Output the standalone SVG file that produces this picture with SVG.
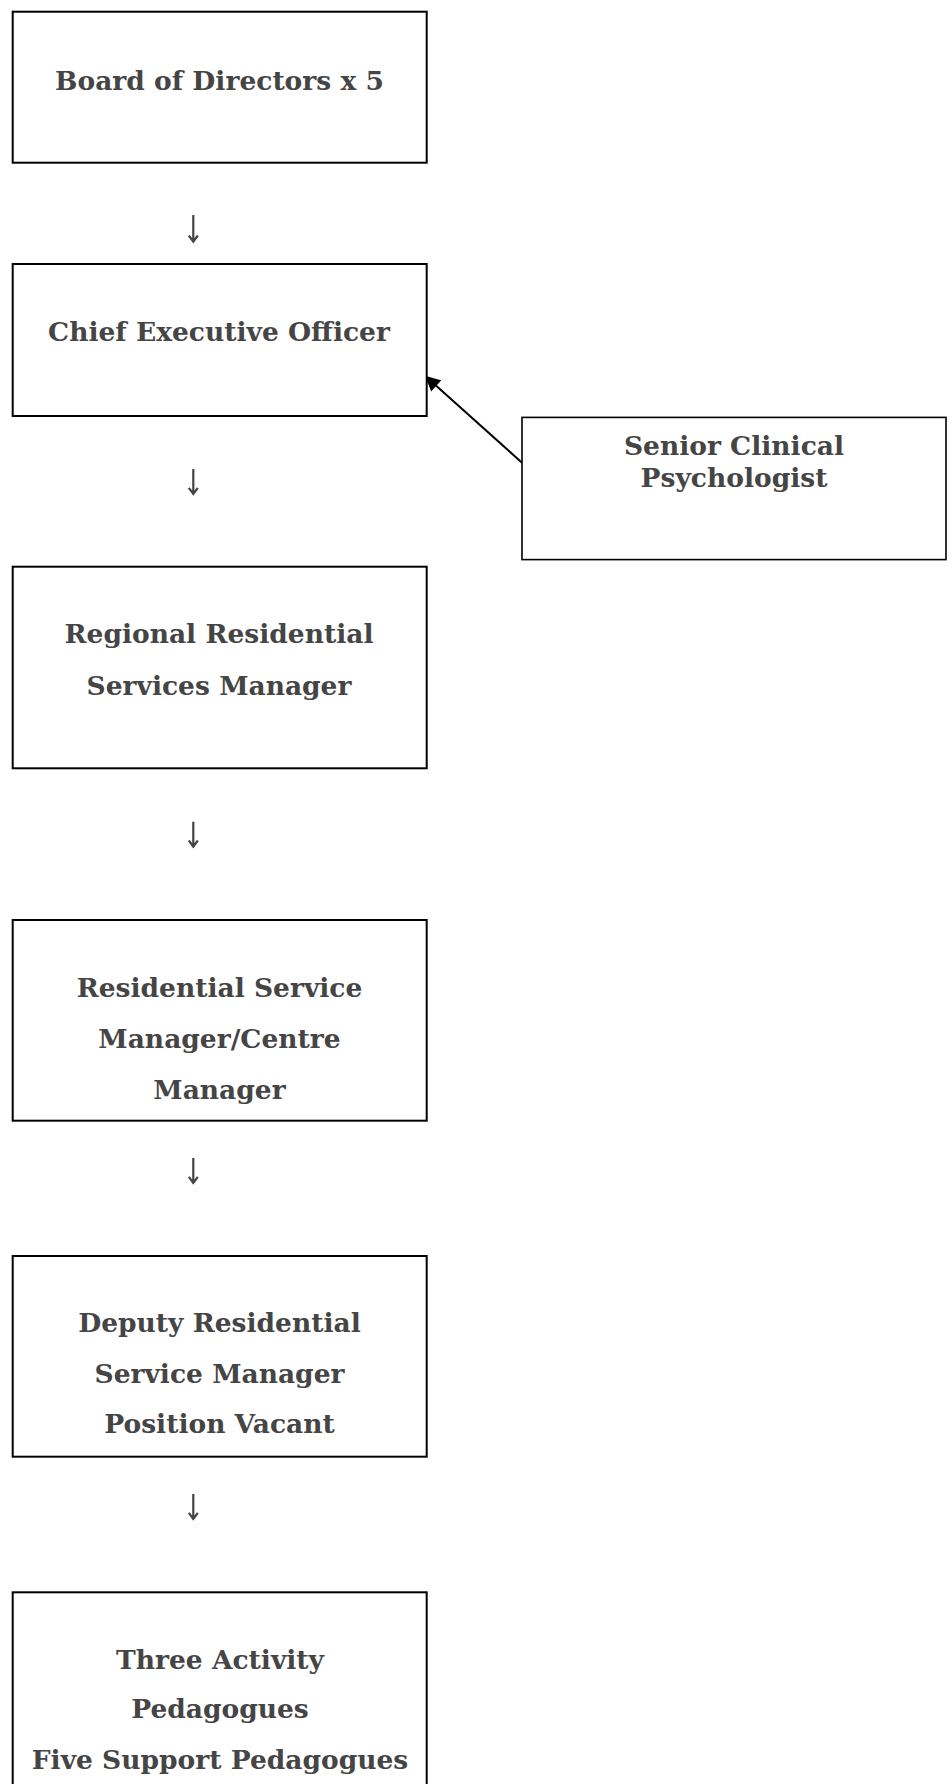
<svg xmlns="http://www.w3.org/2000/svg" width="952" height="1784" viewBox="0 0 952 1784">
<style>
.box{fill:#fff;stroke:#000;stroke-width:2}
.box2{fill:#fff;stroke:#000;stroke-width:1.6}
.t{font-family:"DejaVu Serif","Liberation Serif",serif;font-weight:bold;font-size:26.5px;fill:#454545;text-anchor:middle}
.down{stroke:#444;stroke-width:2.2;fill:none}
.link{stroke:#000;stroke-width:2;fill:none}
</style>
<defs>
<marker id="ah" viewBox="0 0 10 10" refX="10" refY="5" markerWidth="8.5" markerHeight="7.5" markerUnits="strokeWidth" orient="auto">
<path d="M0,0 L10,5 L0,10 z" fill="#000"/>
</marker>
</defs>
<rect width="952" height="1784" fill="#fff"/>
<g id="connectors">
<g class="down">
<path d="M193.3,215 V241.5 M188.8,235.5 L193.3,241.7 L197.8,235.5"/>
<path d="M193.3,469 V493.8 M188.8,487.8 L193.3,494 L197.8,487.8"/>
<path d="M193.3,821.7 V846.5 M188.8,840.5 L193.3,846.7 L197.8,840.5"/>
<path d="M193.3,1158 V1182.8 M188.8,1176.8 L193.3,1183 L197.8,1176.8"/>
<path d="M193.3,1494 V1518.8 M188.8,1512.8 L193.3,1519 L197.8,1512.8"/>
</g>
<path class="link" d="M522,462.7 L425,375.8" marker-end="url(#ah)"/>
</g>
<g id="board">
<rect class="box" x="12.7" y="11.7" width="414" height="151"/>
<text class="t" x="219.5" y="89.5">Board of Directors x 5</text>
</g>
<g id="ceo">
<rect class="box" x="12.7" y="264" width="414" height="152"/>
<text class="t" x="219" y="341">Chief Executive Officer</text>
</g>
<g id="psychologist">
<rect class="box2" x="522" y="417.4" width="424" height="142.2"/>
<text class="t" x="734" y="455">Senior Clinical</text>
<text class="t" x="734" y="487">Psychologist</text>
</g>
<g id="regional">
<rect class="box" x="12.7" y="566.7" width="414" height="201.6"/>
<text class="t" x="219" y="642.7">Regional Residential</text>
<text class="t" x="219" y="695">Services Manager</text>
</g>
<g id="centre-manager">
<rect class="box" x="12.7" y="920" width="414" height="200.7"/>
<text class="t" x="219.5" y="997">Residential Service</text>
<text class="t" x="219.5" y="1048">Manager/Centre</text>
<text class="t" x="219.5" y="1099">Manager</text>
</g>
<g id="deputy">
<rect class="box" x="12.7" y="1256" width="414" height="200.7"/>
<text class="t" x="219.5" y="1331.7">Deputy Residential</text>
<text class="t" x="219.5" y="1382.7">Service Manager</text>
<text class="t" x="219.5" y="1433">Position Vacant</text>
</g>
<g id="pedagogues">
<rect class="box" x="12.7" y="1592.3" width="414" height="220"/>
<text class="t" x="220" y="1668.5">Three Activity</text>
<text class="t" x="220" y="1718">Pedagogues</text>
<text class="t" x="220" y="1768.5">Five Support Pedagogues</text>
</g>
</svg>
